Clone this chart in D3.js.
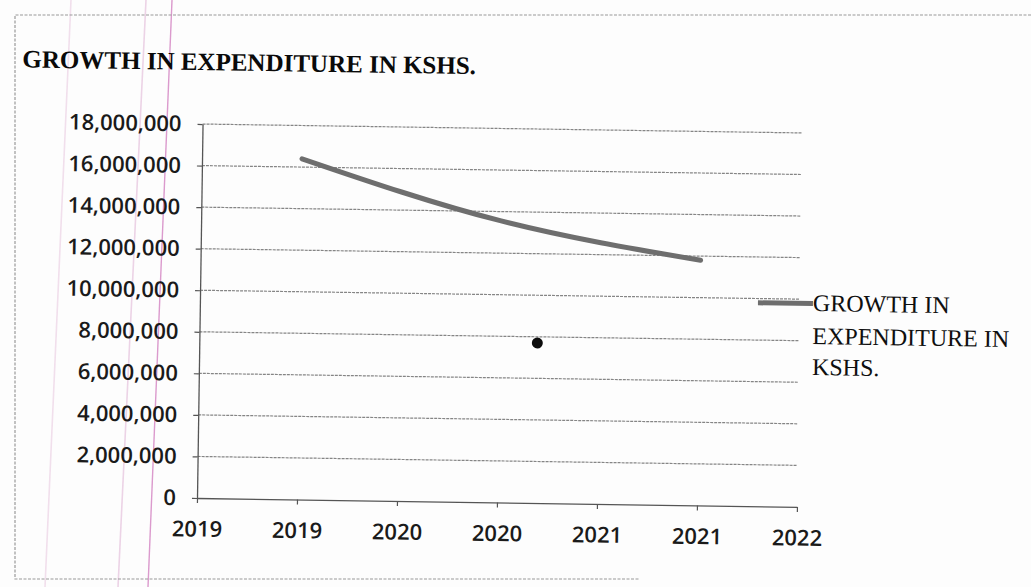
<!DOCTYPE html>
<html>
<head>
<meta charset="utf-8">
<script src="https://cdn.jsdelivr.net/npm/d3@7"></script>
<style>
  html, body { margin: 0; padding: 0; background: #fdfdfd; }
  svg { display: block; }
</style>
</head>
<body>
<svg id="chart" width="1031" height="587"></svg>
<script>
// ---- data ----
const chartTitle = "GROWTH IN EXPENDITURE IN KSHS.";
const legendLines = ["GROWTH IN", "EXPENDITURE IN", "KSHS."];
const years = [2019.5, 2020.5, 2021.5];
const expenditure = [16400000, 13550000, 11800000];
const yTicks = [0, 2000000, 4000000, 6000000, 8000000, 10000000, 12000000, 14000000, 16000000, 18000000];
const xTicks = [2019, 2019.5, 2020, 2020.5, 2021, 2021.5, 2022];
const xTickLabels = ["2019", "2019", "2020", "2020", "2021", "2021", "2022"];
const inkDot = [[2020.69, 7700000]];

// ---- layout ----
const W = 1031, H = 587;
const plot = { left: 197, right: 797, top: 124, bottom: 498 };
const tilt = 0.85; // the printed page sits slightly skewed

const svg = d3.select("#chart");

// page background with faint ruled margin lines
svg.append("rect").attr("width", W).attr("height", H).attr("fill", "#fdfdfd");
const margins = [
  { x1: 71, x2: 45, c: "#f1dfec", w: 1.6 },
  { x1: 146, x2: 118, c: "#ecd3e6", w: 1.6 },
  { x1: 172, x2: 148, c: "#db9acd", w: 1.4 }
];
svg.selectAll("line.margin").data(margins).join("line")
  .attr("class", "margin")
  .attr("x1", d => d.x1).attr("y1", 0)
  .attr("x2", d => d.x2).attr("y2", H)
  .attr("stroke", d => d.c).attr("stroke-width", d => d.w);

// chart frame (top, left, bottom)
svg.append("path")
  .attr("d", `M${W},15 L15,15 L15,579 L640,579`)
  .attr("fill", "none")
  .attr("stroke", "#9a9a9a")
  .attr("stroke-width", 1.2)
  .attr("stroke-dasharray", "3,1.5");

const g = svg.append("g")
  .attr("transform", `rotate(${tilt},${plot.left},${plot.bottom})`);

const x = d3.scaleLinear().domain([2019, 2022]).range([plot.left, plot.right]);
const y = d3.scaleLinear().domain([0, 18000000]).range([plot.bottom, plot.top]);

// title
g.append("text")
  .attr("x", 16).attr("y", 70)
  .attr("font-family", "'Liberation Serif', 'Times New Roman', serif")
  .attr("font-weight", "bold")
  .attr("font-size", 25)
  .attr("fill", "#0a0a0a")
  .text(chartTitle);

// horizontal gridlines
g.append("g").selectAll("line").data(yTicks.filter(d => d > 0)).join("line")
  .attr("x1", plot.left).attr("x2", plot.right)
  .attr("y1", d => y(d)).attr("y2", d => y(d))
  .attr("stroke", "#858585")
  .attr("stroke-width", 1.2)
  .attr("stroke-dasharray", "3,1");

// y axis
const yAxis = g.append("g")
  .attr("transform", `translate(${plot.left},0)`)
  .call(d3.axisLeft(y).tickValues(yTicks).tickFormat(d3.format(","))
    .tickSizeInner(5).tickSizeOuter(0).tickPadding(16));

// x axis
const xAxis = g.append("g")
  .attr("transform", `translate(0,${plot.bottom})`)
  .call(d3.axisBottom(x).tickValues(xTicks).tickFormat((d, i) => xTickLabels[i])
    .tickSizeInner(5).tickSizeOuter(0).tickPadding(18));

[yAxis, xAxis].forEach(ax => {
  ax.select(".domain").attr("stroke", "#555").attr("stroke-width", 1.3);
  ax.selectAll(".tick line").attr("stroke", "#555").attr("stroke-width", 1.2);
  ax.selectAll(".tick text")
    .attr("font-family", "'Open Sans', 'DejaVu Sans', sans-serif")
    .attr("font-size", 22)
    .attr("font-weight", 600)
    .attr("fill", "#1a1a1a");
});

// expenditure line (smoothed)
const pts = years.map((yr, i) => [yr, expenditure[i]]);
const line = d3.line()
  .x(d => x(d[0]))
  .y(d => y(d[1]))
  .curve(d3.curveNatural);

g.append("path")
  .datum(pts)
  .attr("d", line)
  .attr("fill", "none")
  .attr("stroke", "#6e6e6e")
  .attr("stroke-width", 5)
  .attr("stroke-linecap", "round");

// stray ink dot
g.append("g").selectAll("circle").data(inkDot).join("circle")
  .attr("cx", d => x(d[0]))
  .attr("cy", d => y(d[1]))
  .attr("r", 5.5)
  .attr("fill", "#0d0d0d");

// legend
const legend = g.append("g");
legend.append("line")
  .attr("x1", 755).attr("x2", 810)
  .attr("y1", 294.5).attr("y2", 294.5)
  .attr("stroke", "#6e6e6e")
  .attr("stroke-width", 5);
legend.selectAll("text").data(legendLines).join("text")
  .attr("x", 810)
  .attr("y", (d, i) => [302, 335, 366][i])
  .attr("font-family", "'Liberation Serif', 'Times New Roman', serif")
  .attr("font-size", 24)
  .attr("fill", "#0f0f0f")
  .text(d => d);
</script>
</body>
</html>
